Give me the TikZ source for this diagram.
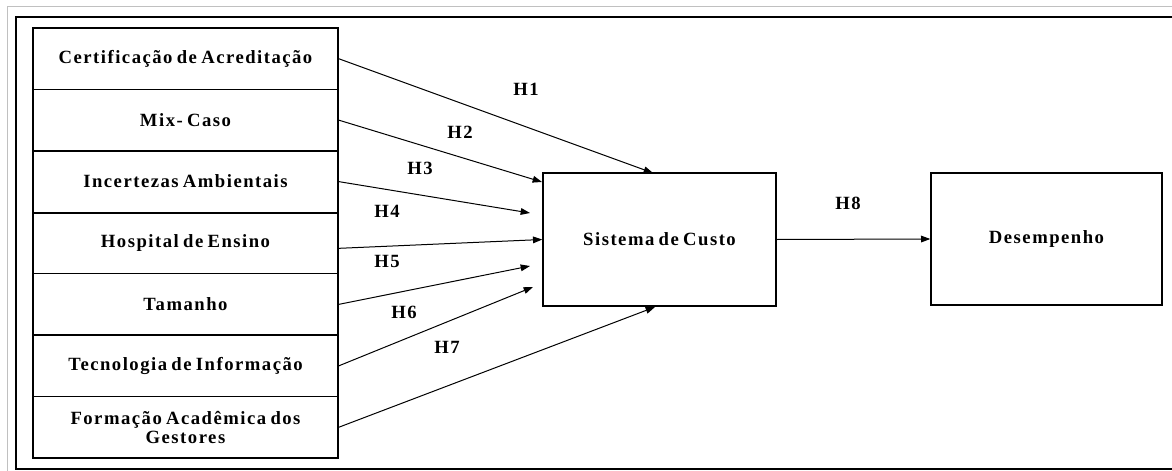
\documentclass[tikz,border=0pt]{standalone}
\usepackage{fontspec}
\usetikzlibrary{arrows.meta}
\setmainfont{Liberation Serif}[BoldFont={Liberation Serif Bold}, LetterSpace=8, WordSpace=0.7]

\tikzset{every picture/.style={line width=0.75pt}}
\tikzset{
  factor/.style={draw, line width=1pt, minimum width=228.75pt, minimum height=46.07pt, inner sep=0pt, align=center, font=\bfseries\fontsize{14}{14.3}\selectfont},
  bigbox/.style={draw, line width=1pt, inner sep=0pt, font=\bfseries\fontsize{14}{14.3}\selectfont},
  hlabel/.style={inner sep=0.75pt, font=\bfseries\fontsize{14}{14.3}\selectfont},
  hypo/.style={-{Triangle[length=7pt,width=5pt]}, line width=0.75pt},
}

\begin{document}
\begin{tikzpicture}[x=0.75pt,y=0.75pt,yscale=-1,xscale=1]
\useasboundingbox (0,0) rectangle (1172,471);

%Shape: Frame
\draw [color={rgb, 255:red, 192; green, 192; blue, 192 }] (7,471) -- (7,6.5) -- (1172,6.5) ;
\draw [line width=1.5pt] (1172,17) -- (16,17) -- (16,469) -- (1172,469) ;

%Shape: Rectangle [factors]
\node [factor] (cert) at (185.5,58.7) {Certificação de Acreditação};
\node [factor] (mix) at (185.5,120.1) {Mix- Caso};
\node [factor] (incert) at (185.5,181.6) {Incertezas Ambientais};
\node [factor] (hosp) at (185.5,243.0) {Hospital de Ensino};
\node [factor] (tam) at (185.5,304.4) {Tamanho};
\node [factor] (tec) at (185.5,365.9) {Tecnologia de Informação};
\node [factor] (form) at (185.5,427.3) {Formação Acadêmica dos\\Gestores};
\draw [line width=1.5pt] (incert.south west) -- (incert.south east) ;

%Shape: Rectangle [id:sist]
\node [bigbox, minimum width=174.75pt, minimum height=99.75pt] (sist) at (659.5,239.5) {Sistema de Custo};
%Shape: Rectangle [id:desemp]
\node [bigbox, minimum width=173.25pt, minimum height=99pt] (desemp) at (1046.5,239) {Desempenho};

% Arrow ends
\coordinate (e1) at (653,173);
\coordinate (e2) at (542,182);
\coordinate (e3) at (530,213);
\coordinate (e5) at (530,266);
\coordinate (e6) at (533,287);
\coordinate (e7) at (655,307);

% Arrows
\draw [hypo] (cert.east) -- (e1) ;
\draw [hypo] (mix.east) -- (e2) ;
\draw [hypo] (incert.east) -- (e3) ;
\draw [hypo] ([yshift=4pt]hosp.east) -- (sist.west) ;
\draw [hypo] (tam.east) -- (e5) ;
\draw [hypo] (tec.east) -- (e6) ;
\draw [hypo] (form.east) -- (e7) ;
\draw [hypo] (sist.east) -- (desemp.west) ;

% Text Node
\node [hlabel] (h1) at (526,89) {H1};
\node [hlabel] (h2) at (460,132) {H2};
\node [hlabel] (h3) at (420,168) {H3};
\node [hlabel] (h4) at (387,211) {H4};
\node [hlabel] (h5) at (387,261) {H5};
\node [hlabel] (h6) at (404,312) {H6};
\node [hlabel] (h7) at (447,347) {H7};
\node [hlabel] (h8) at (848,203) {H8};

\end{tikzpicture}
\end{document}
